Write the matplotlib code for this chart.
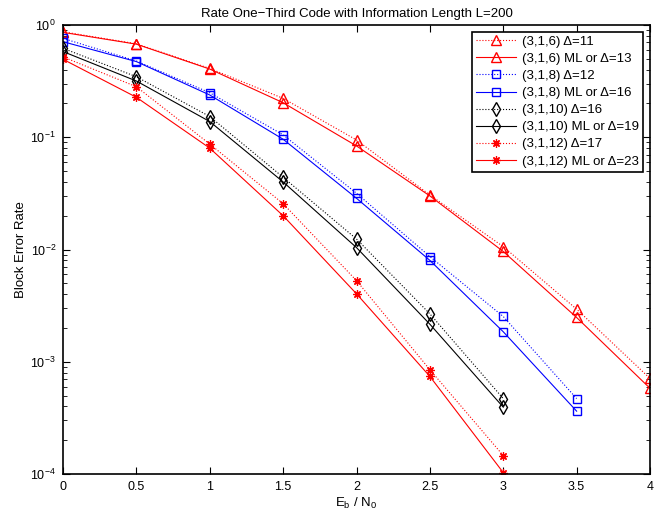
import numpy as np
import matplotlib
matplotlib.use("Agg")
import matplotlib.pyplot as plt
from matplotlib.ticker import LogLocator, FixedLocator, FuncFormatter

plt.rcParams['font.family'] = ['Liberation Sans', 'DejaVu Sans']
plt.rcParams['mathtext.fontset'] = 'custom'
plt.rcParams['mathtext.rm'] = 'Liberation Sans'
plt.rcParams['mathtext.it'] = 'Liberation Sans'

# Eb/N0 points
snr_6 = [0, 0.5, 1, 1.5, 2, 2.5, 3, 3.5, 4]
snr_8 = [0, 0.5, 1, 1.5, 2, 2.5, 3, 3.5]
snr_10 = [0, 0.5, 1, 1.5, 2, 2.5, 3]
snr_12 = [0, 0.5, 1, 1.5, 2, 2.5, 3]

# block error rates
bler_6_d = [0.87, 0.68, 0.41, 0.222, 0.0946, 0.0306, 0.0106, 0.00294, 0.00071]
bler_6_ml = [0.86, 0.675, 0.405, 0.203, 0.0837, 0.030, 0.0096, 0.00248, 0.00058]
bler_8_d = [0.76, 0.478, 0.249, 0.105, 0.0317, 0.00865, 0.00253, 0.00047]
bler_8_ml = [0.71, 0.472, 0.238, 0.096, 0.0286, 0.0080, 0.00185, 0.000363]
bler_10_d = [0.62, 0.346, 0.153, 0.044, 0.0124, 0.00267, 0.00047]
bler_10_ml = [0.58, 0.317, 0.138, 0.040, 0.0104, 0.00216, 0.000394]
bler_12_d = [0.52, 0.282, 0.087, 0.0256, 0.00528, 0.00085, 0.000146]
bler_12_ml = [0.495, 0.227, 0.080, 0.020, 0.00403, 0.00074, 0.000103]

labels = ["(3,1,6) Δ=11", "(3,1,6) ML or Δ=13",
          "(3,1,8) Δ=12", "(3,1,8) ML or Δ=16",
          "(3,1,10) Δ=16", "(3,1,10) ML or Δ=19",
          "(3,1,12) Δ=17", "(3,1,12) ML or Δ=23"]

fig = plt.figure(figsize=(6.72, 5.19), dpi=100)
ax = fig.add_axes([63/672, 1-474/519, (650-63)/672, (474-25)/519])

star = (8, 2, 0)
lw = 0.8
ax.semilogy(snr_6, bler_6_d, ':', color='r', marker='^', mfc='none', ms=7.5, lw=lw, label=labels[0])
ax.semilogy(snr_6, bler_6_ml, '-', color='r', marker='^', mfc='none', ms=7.5, lw=lw, label=labels[1])
ax.semilogy(snr_8, bler_8_d, ':', color='b', marker='s', mfc='none', ms=5.5, lw=lw, label=labels[2])
ax.semilogy(snr_8, bler_8_ml, '-', color='b', marker='s', mfc='none', ms=5.5, lw=lw, label=labels[3])
ax.semilogy(snr_10, bler_10_d, ':', color='k', marker='d', mfc='none', ms=7.5, lw=lw, label=labels[4])
ax.semilogy(snr_10, bler_10_ml, '-', color='k', marker='d', mfc='none', ms=7.5, lw=lw, label=labels[5])
ax.semilogy(snr_12, bler_12_d, ':', color='r', marker=star, ms=6, mew=0.9, lw=lw, label=labels[6])
ax.semilogy(snr_12, bler_12_ml, '-', color='r', marker=star, ms=6, mew=0.9, lw=lw, label=labels[7])

ax.set_xlim(0, 4)
ax.set_ylim(1e-4, 1)
ax.xaxis.set_major_locator(FixedLocator(np.arange(0, 4.01, 0.5)))
ax.xaxis.set_major_formatter(FuncFormatter(lambda v, p: "%g" % v))
ax.yaxis.set_major_locator(LogLocator(base=10, numticks=10))
ax.yaxis.set_minor_locator(LogLocator(base=10, subs=np.arange(2, 10), numticks=20))
ax.tick_params(which='both', direction='in', top=True, right=True, labelsize=9)
ax.tick_params(which='major', length=5, width=0.8, pad=5)
ax.tick_params(which='minor', length=3, width=0.6)
for s in ax.spines.values():
    s.set_linewidth(1.2)

ax.set_title("Rate One\u2212Third Code with Information Length L=200", fontsize=9.5, pad=5.5)
ax.set_xlabel("E$_{\\mathrm{b}}$ / N$_{\\mathrm{0}}$", fontsize=9.5, labelpad=2)
ax.set_ylabel("Block Error Rate", fontsize=9.5)
ax.yaxis.set_label_coords(-0.062, 0.5)

leg = ax.legend(loc='upper right', fontsize=9.5, fancybox=False, framealpha=1,
                edgecolor='k', borderaxespad=0.5, handlelength=3.0,
                labelspacing=0.37, borderpad=0.3, handletextpad=0.5)
leg.get_frame().set_linewidth(1.2)

fig.savefig("out.png", dpi=100)
